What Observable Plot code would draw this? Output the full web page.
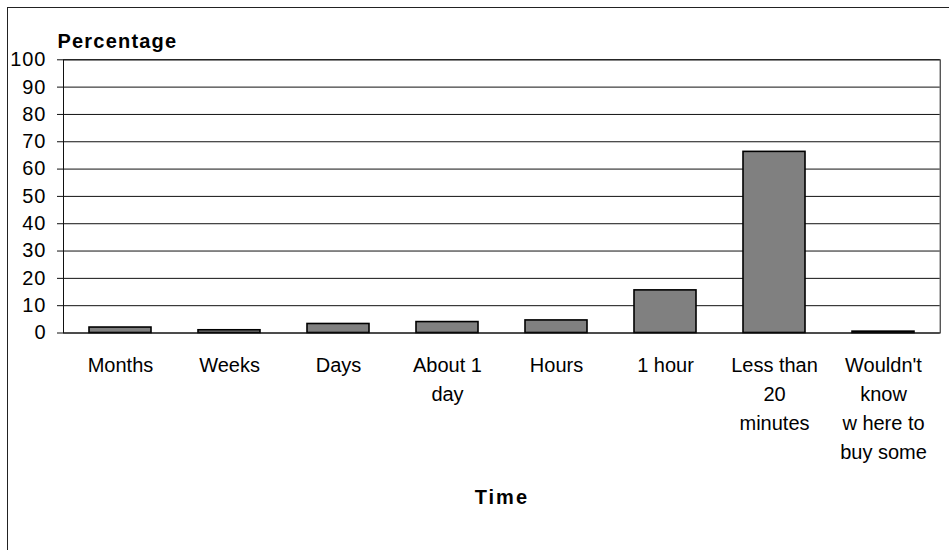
<!DOCTYPE html>
<html>
<head>
<meta charset="utf-8">
<script src="https://cdn.jsdelivr.net/npm/d3@7"></script>
<script src="https://cdn.jsdelivr.net/npm/@observablehq/plot@0.6"></script>
<style>
  html, body { margin: 0; padding: 0; background: white; }
  #wrap { position: relative; width: 949px; height: 550px; overflow: hidden; }
  #border { position: absolute; left: 7px; top: 7px; width: 1000px; height: 600px;
            border-left: 1.5px solid #222; border-top: 1.5px solid #222; pointer-events: none; }
  #chart { position: absolute; left: 0; top: 0; }
</style>
</head>
<body>
<div id="wrap"><div id="chart"></div><div id="border"></div></div>
<script>
const categories = ["Months", "Weeks", "Days", "About 1 day", "Hours", "1 hour", "Less than 20 minutes", "Wouldn't know where to buy some"];
const tickLabels = ["Months", "Weeks", "Days", "About 1\nday", "Hours", "1 hour", "Less than\n20\nminutes", "Wouldn't\nknow\nw here to\nbuy some"];
const values = [2.0, 1.0, 3.3, 4.0, 4.6, 15.6, 66.3, 0.5];
const yTicks = [0, 10, 20, 30, 40, 50, 60, 70, 80, 90, 100];
const yTitle = "Percentage";
const xTitle = "Time";

const data = categories.map((c, i) => ({category: c, value: values[i]}));
const labelOf = new Map(categories.map((c, i) => [c, tickLabels[i]]));

const chart = Plot.plot({
  width: 949,
  height: 550,
  marginTop: 59.3,
  marginRight: 9.3,
  marginBottom: 217.5,
  marginLeft: 63,
  style: {fontFamily: "'Liberation Sans', Arial, sans-serif", fontSize: "19px", color: "black", background: "white", overflow: "visible"},
  x: {domain: categories, paddingInner: 0.43, paddingOuter: 0.215, axis: null},
  y: {domain: [0, 100], axis: null},
  marks: [
    Plot.gridY(yTicks, {stroke: "#111", strokeOpacity: 1, strokeWidth: 1}),
    Plot.barY(data, {x: "category", y: "value", fill: "#808080", stroke: "black", strokeWidth: 1.6}),
    Plot.frame({stroke: "#111", strokeWidth: 1}),
    Plot.axisY(yTicks, {tickSize: 6, tickPadding: 11, fontSize: 20, label: null, stroke: "#111"}),
    Plot.axisX({tickSize: 0, tickPadding: 18, fontSize: 20, lineHeight: 1.46, label: null, tickFormat: d => labelOf.get(d)}),
    Plot.text([yTitle], {frameAnchor: "top-left", dx: -6, dy: -26, textAnchor: "start", fontWeight: "bold", fontSize: 20, text: d => d}),
    Plot.text([xTitle], {frameAnchor: "bottom", dx: 0, dy: 171, fontWeight: "bold", fontSize: 20, text: d => d})
  ]
});
// spacing of the titles and y tick labels as in the reference
d3.select(chart).selectAll("text").each(function() {
  const t = this.textContent;
  if (t === yTitle) d3.select(this).style("letter-spacing", "1.2px");
  else if (t === xTitle) d3.select(this).style("letter-spacing", "2px");
  else if (yTicks.map(String).includes(t)) d3.select(this).style("letter-spacing", "1px");
});
document.getElementById("chart").appendChild(chart);
</script>
</body>
</html>
